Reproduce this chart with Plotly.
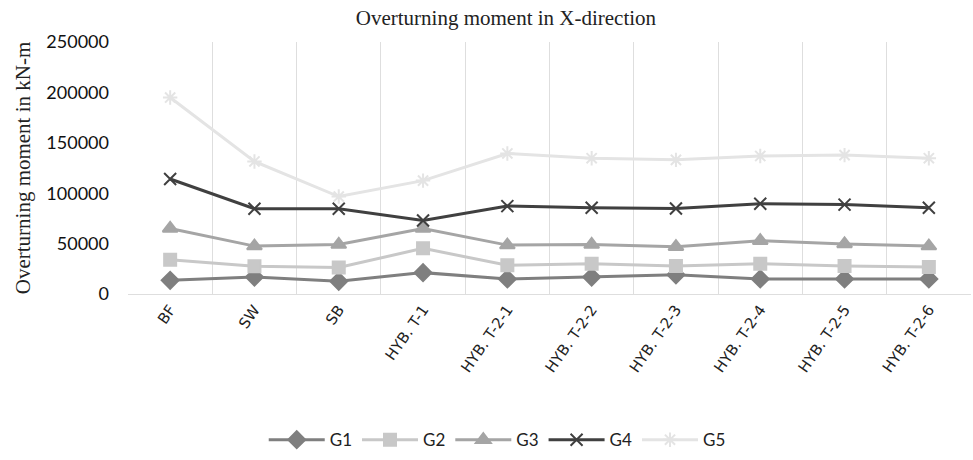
import plotly.graph_objects as go

categories = ["BF", "SW", "SB", "HYB. T-1", "HYB. T-2-1", "HYB. T-2-2",
              "HYB. T-2-3", "HYB. T-2-4", "HYB. T-2-5", "HYB. T-2-6"]

g1 = [13600, 16800, 12600, 21200, 14900, 16800, 19000, 14900, 14900, 14900]
g2 = [33900, 27600, 26300, 45300, 28500, 30100, 27900, 30100, 27900, 26900]
g3 = [65000, 47500, 49100, 65000, 48500, 49100, 46900, 52900, 49700, 47500]
g4 = [114100, 84600, 84600, 72900, 87200, 85600, 84900, 89600, 88700, 85600]
g5 = [194900, 131500, 96700, 112500, 139400, 134700, 133100, 136900, 137800, 134700]

series = [
    ("G1", g1, "#7f7f7f", "diamond", 13),
    ("G2", g2, "#c8c8c8", "square", 12),
    ("G3", g3, "#a5a5a5", "triangle-up", 13),
    ("G4", g4, "#404040", "x-thin-open", 12),
    ("G5", g5, "#e4e4e4", "asterisk-open", 12),
]

fig = go.Figure()
for name, vals, color, symbol, size in series:
    fig.add_trace(go.Scatter(
        x=categories, y=vals, name=name, mode="lines+markers",
        line=dict(color=color, width=3),
        marker=dict(symbol=symbol, size=size, color=color,
                    line=dict(color=color, width=2)),
    ))

fig.update_layout(
    width=973, height=460,
    margin=dict(l=128, r=2, t=42, b=155),
    paper_bgcolor="white", plot_bgcolor="white",
    title=dict(text="Overturning moment in X-direction",
               font=dict(family="Liberation Serif", size=21, color="#222"),
               x=0.52, xanchor="center", y=0.962, yanchor="middle"),
    showlegend=True,
    legend=dict(orientation="h", x=0.438, xanchor="center", y=-0.58, yanchor="middle",
                font=dict(family="Lato", size=17, color="#222"),
                itemwidth=56, tracegroupgap=0),
    xaxis=dict(type="category", tickangle=-55, tickson="boundaries", showgrid=True,
               gridcolor="#dedede", gridwidth=1, ticks="outside", ticklen=12,
               tickcolor="rgba(0,0,0,0)",
               showline=True, linecolor="#dedede", linewidth=1,
               tickfont=dict(family="DejaVu Sans", size=15, color="#222"),
               range=[-0.5, 9.5]),
    yaxis=dict(range=[0, 250000], dtick=50000, showgrid=False, zeroline=False,
               showline=False, ticks="", tickformat="d",
               tickfont=dict(family="Lato", size=18, color="#111"),
               ticklabelstandoff=18,
               title=dict(text="Overturning moment in kN-m", standoff=10,
                          font=dict(family="Liberation Serif", size=21, color="#222"))),
)

fig.write_html("out.html")
